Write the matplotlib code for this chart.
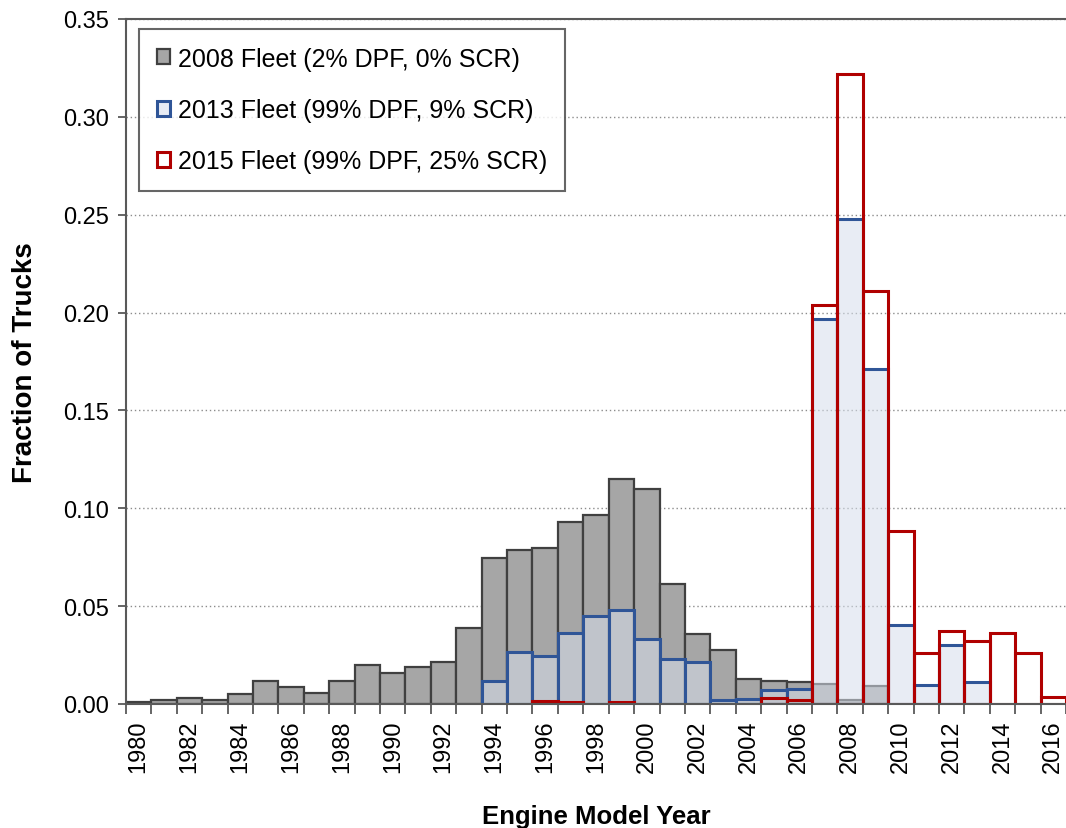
import matplotlib
matplotlib.use("Agg")
import matplotlib.pyplot as plt
import numpy as np

years = list(range(1980, 2017))

fleet_2008 = [0.001, 0.002, 0.003, 0.002, 0.005, 0.012, 0.0086, 0.0054, 0.0115, 0.020,
              0.0156, 0.019, 0.0215, 0.0388, 0.0748, 0.0788, 0.0796, 0.093, 0.0964, 0.1152,
              0.110, 0.0611, 0.036, 0.0277, 0.0127, 0.0116, 0.011, 0.010, 0.002, 0.009,
              0, 0, 0, 0, 0, 0, 0]
fleet_2013 = [0, 0, 0, 0, 0, 0, 0, 0, 0, 0,
              0, 0, 0, 0, 0.0116, 0.0265, 0.0247, 0.0363, 0.0452, 0.0481,
              0.0332, 0.0231, 0.0214, 0.002, 0.0026, 0.0069, 0.0078, 0.1968, 0.248, 0.171,
              0.0403, 0.0097, 0.030, 0.0114, 0, 0, 0]
fleet_2015 = [0, 0, 0, 0, 0, 0, 0, 0, 0, 0,
              0, 0, 0, 0, 0, 0, 0.0014, 0.001, 0, 0.001,
              0, 0, 0, 0, 0, 0.003, 0.002, 0.204, 0.322, 0.211,
              0.0886, 0.026, 0.0373, 0.032, 0.0364, 0.0263, 0.0037]

labels = ["2008 Fleet (2% DPF, 0% SCR)",
          "2013 Fleet (99% DPF, 9% SCR)",
          "2015 Fleet (99% DPF, 25% SCR)"]

plt.rcParams['font.family'] = ['Liberation Sans', 'DejaVu Sans']

W, H = 1066, 829
fig = plt.figure(figsize=(W / 100, H / 100), dpi=100)
ax = fig.add_axes([126 / W, (H - 705) / H, 940 / W, 685 / H])


def nonzero(vals):
    x = [y for y, v in zip(years, vals) if v > 0]
    h = [v for v in vals if v > 0]
    return x, h


x, h = nonzero(fleet_2008)
ax.bar(x, h, width=1.0, facecolor='#a6a6a6', edgecolor='#404040', linewidth=1.6,
       label=labels[0], zorder=2)
x, h = nonzero(fleet_2013)
ax.bar(x, h, width=1.0, facecolor=(0.84, 0.87, 0.92, 0.55), edgecolor='#2f5597',
       linewidth=2.2, label=labels[1], zorder=3)
x, h = nonzero(fleet_2015)
ax.bar(x, h, width=1.0, facecolor='none', edgecolor='#b00000', linewidth=2.2,
       label=labels[2], zorder=4)

ax.set_xlim(1979.5, 2016.5)
ax.set_ylim(0, 0.35)
ax.set_yticks(np.arange(0, 0.351, 0.05))
ax.set_yticklabels([f"{v:.2f}" for v in np.arange(0, 0.351, 0.05)])
ax.yaxis.grid(True, color='#8c8c8c', linestyle=(0, (1, 2)), linewidth=1.0)
ax.set_axisbelow(True)

ax.set_xticks(years[::2])
ax.set_xticklabels([str(y) for y in years[::2]], rotation=90)
ax.set_xticks(np.arange(1979.5, 2017, 1.0), minor=True)
ax.tick_params(axis='x', which='major', length=0, pad=11, labelsize=17)
ax.tick_params(axis='x', which='minor', length=7, width=1.3, color='#595959', direction='out')
ax.tick_params(axis='y', length=6, width=1.3, color='#595959', direction='out', labelsize=17, pad=6)

for s in ['left', 'bottom', 'top']:
    ax.spines[s].set_color('#595959')
    ax.spines[s].set_linewidth(1.5)
ax.spines['right'].set_visible(False)
ax.spines['bottom'].set_zorder(5)

ax.set_xlabel("Engine Model Year", fontsize=18.5, fontweight='bold', labelpad=23)
ax.set_ylabel("Fraction of Trucks", fontsize=20, fontweight='bold', labelpad=18)

leg = ax.legend(loc='upper left', bbox_to_anchor=(13 / 940, 1 - 10 / 685), borderaxespad=0,
                fontsize=18, frameon=True, fancybox=False, handlelength=0.55,
                handleheight=0.55, handletextpad=0.3, labelspacing=1.1, borderpad=0.7)
leg.get_frame().set_edgecolor('#404040')
leg.get_frame().set_linewidth(1.5)

fig.savefig("out.png", dpi=100)
